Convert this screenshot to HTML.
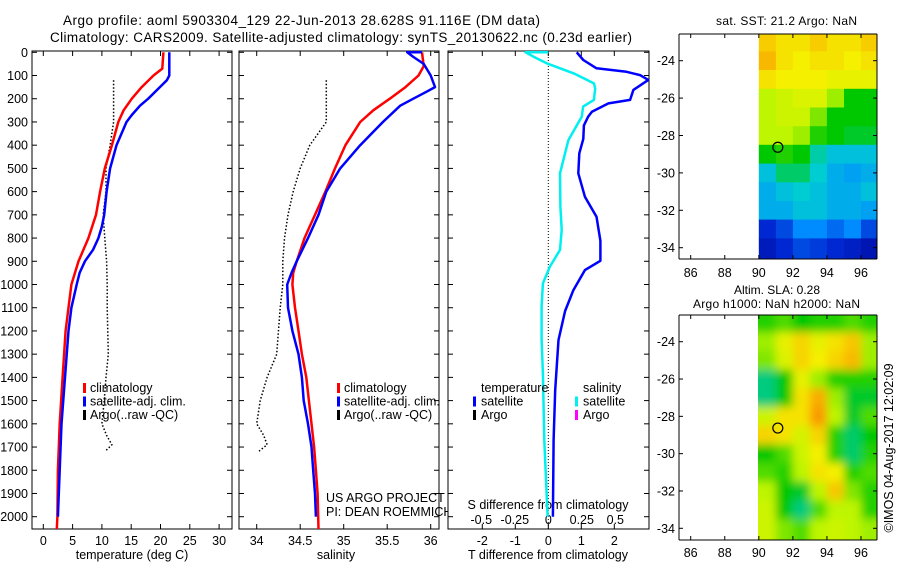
<!DOCTYPE html>
<html><head><meta charset="utf-8"><style>
html,body{margin:0;padding:0;background:#fff;}
svg{display:block;font-family:"Liberation Sans",sans-serif;}
</style></head><body>
<svg id="s" width="900" height="580" viewBox="0 0 900 580" xmlns="http://www.w3.org/2000/svg">
<defs>
<filter id="blur" x="-10%" y="-10%" width="120%" height="120%"><feGaussianBlur stdDeviation="4.5"/></filter>
<clipPath id="clipSST"><rect x="758" y="34" width="119" height="225"/></clipPath>
<clipPath id="clipSLA"><rect x="758" y="315" width="119" height="225"/></clipPath>
<clipPath id="clipP3"><rect x="448" y="51" width="201" height="478"/></clipPath>
</defs>
<text x="63" y="25" font-size="13.5" textLength="477">Argo profile: aoml 5903304_129 22-Jun-2013 28.628S 91.116E (DM data)</text>
<text x="50" y="42" font-size="13.5" textLength="582">Climatology: CARS2009. Satellite-adjusted climatology: synTS_20130622.nc (0.23d earlier)</text>
<text x="716" y="25" font-size="12" textLength="141">sat. SST: 21.2 Argo: NaN</text>
<text x="777" y="294" font-size="12" text-anchor="middle">Altim. SLA: 0.28</text>
<text x="693" y="308" font-size="12" textLength="167">Argo h1000: NaN h2000: NaN</text>
<text transform="translate(893,448) rotate(-90)" text-anchor="middle" font-size="12.5">©IMOS 04-Aug-2017 12:02:09</text>
<g id="g"></g>
</svg>
<script>
// ---- data ----
const tDepthClim=[0,70,100,150,200,250,300,400,500,600,700,800,900,1000,1100,1200,1400,1600,1800,2000,2053];
const tClim=[20.5,20.3,18.8,16.8,15.1,13.7,12.8,11.7,10.5,9.7,9.0,7.7,6.0,4.8,4.3,3.8,3.3,2.8,2.5,2.4,2.3];
const tDepthSat=[0,100,120,150,200,230,270,300,400,500,600,700,750,800,850,900,950,1000,1100,1200,1400,1600,1800,2000];
const tSat=[21.5,21.5,21.1,19.9,17.9,16.5,15.1,14.2,12.5,11.4,10.8,10.4,10.0,9.4,8.5,7.1,6.2,5.7,4.8,4.3,3.7,3.1,2.8,2.5];
const argoDepth=[120,300,400,500,600,700,800,900,1000,1100,1300,1400,1500,1600,1650,1690,1720];
const argoTemp=[12.0,12.0,11.4,10.7,10.7,10.2,10.5,10.8,10.9,10.9,11.1,10.7,10.4,10.0,10.8,11.7,10.5];
const sDepthClim=[0,60,100,150,200,250,300,400,500,600,700,800,900,950,1000,1100,1200,1300,1400,1500,1600,1700,1800,1900,2053];
const sClim=[35.90,35.92,35.86,35.71,35.53,35.34,35.19,35.02,34.90,34.79,34.67,34.55,34.46,34.42,34.41,34.44,34.48,34.52,34.57,34.60,34.63,34.66,34.68,34.70,34.71];
const sDepthSat=[0,0,20,50,100,150,170,200,230,300,400,500,600,700,800,900,950,1000,1100,1200,1300,1400,1500,1600,1700,1800,1900,2000];
const sSat=[35.90,35.73,35.80,35.92,36.0,36.05,35.95,35.80,35.65,35.45,35.19,34.96,34.80,34.71,34.59,34.46,34.40,34.35,34.36,34.41,34.48,34.52,34.54,34.59,34.63,34.65,34.67,34.68];
const argoSal=[34.80,34.80,34.61,34.50,34.42,34.36,34.32,34.30,34.30,34.27,34.23,34.12,34.04,34.00,34.08,34.12,34.02];
const dtDepth=[0,33,69,84,98,119,162,205,220,256,277,315,373,435,521,622,708,812,898,938,1024,1114,1239,1454,1670,2000];
const dTsat=[0.86,1.06,1.46,2.37,2.78,3.03,2.58,2.48,1.82,1.32,1.21,1.08,1.06,0.94,0.91,1.11,1.46,1.58,1.58,1.11,0.76,0.51,0.31,0.21,0.16,0.14];
const dsDepth=[0,0,19,48,91,134,155,205,234,277,378,521,665,765,851,923,995,1095,1239,1383,1670,2000];
const dSsat=[0,-0.17,-0.11,-0.01,0.19,0.34,0.35,0.34,0.26,0.25,0.15,0.087,0.09,0.10,0.087,0.012,-0.04,-0.05,-0.05,-0.04,-0.03,-0.005];
const mapLats=[-23,-24,-25,-26,-27,-28,-29,-30,-31,-32,-33,-34,-35];
const mapLons=[90.5,91.5,92.5,93.5,94.5,95.5,96.5];
const sstGrid=[
[0.75,0.72,0.72,0.75,0.72,0.72,0.75],
[0.78,0.72,0.70,0.72,0.72,0.70,0.72],
[0.72,0.70,0.70,0.70,0.68,0.68,0.68],
[0.62,0.64,0.66,0.66,0.60,0.50,0.50],
[0.62,0.64,0.64,0.58,0.50,0.50,0.50],
[0.62,0.62,0.60,0.52,0.50,0.48,0.48],
[0.50,0.52,0.50,0.42,0.38,0.38,0.38],
[0.38,0.45,0.45,0.40,0.35,0.33,0.35],
[0.35,0.38,0.40,0.38,0.35,0.35,0.38],
[0.35,0.35,0.38,0.38,0.35,0.35,0.33],
[0.15,0.20,0.30,0.30,0.25,0.30,0.20],
[0.10,0.15,0.20,0.18,0.15,0.12,0.08],
[0.10,0.15,0.20,0.18,0.15,0.12,0.08]];
const slaGrid=[
[0.52,0.55,0.50,0.52,0.52,0.55,0.52],
[0.60,0.68,0.74,0.68,0.72,0.76,0.60],
[0.58,0.66,0.74,0.70,0.74,0.78,0.60],
[0.44,0.50,0.68,0.60,0.52,0.52,0.52],
[0.44,0.50,0.72,0.80,0.60,0.48,0.48],
[0.64,0.72,0.72,0.82,0.62,0.48,0.55],
[0.74,0.72,0.65,0.74,0.52,0.45,0.50],
[0.50,0.55,0.64,0.70,0.52,0.45,0.52],
[0.55,0.52,0.62,0.72,0.70,0.52,0.55],
[0.62,0.50,0.48,0.62,0.76,0.58,0.52],
[0.64,0.50,0.44,0.55,0.62,0.62,0.52],
[0.64,0.58,0.55,0.62,0.64,0.62,0.60],
[0.64,0.58,0.55,0.62,0.64,0.62,0.60]];
const argoLon=91.116, argoLat=-28.628;
const depthTicks=[0,100,200,300,400,500,600,700,800,900,1000,1100,1200,1300,1400,1500,1600,1700,1800,1900,2000];
const tempTicks=[0,5,10,15,20,25,30];
const salTicks=[34,34.5,35,35.5,36];
const salTickLabels=["34","34.5","35","35.5","36"];
const dtTicks=[-2,-1,0,1,2];
const dsTicks=[-0.5,-0.25,0,0.25,0.5];
const dsTickLabels=["-0.5","-0.25","0","0.25","0.5"];
const lonTicks=[86,88,90,92,94,96];
const latTicks=[-24,-26,-28,-30,-32,-34];

// ---- scales ----
const NS="http://www.w3.org/2000/svg";
const G=document.getElementById('g');
function mk(tag,attrs,parent){const e=document.createElementNS(NS,tag);for(const k in attrs)e.setAttribute(k,attrs[k]);(parent||G).appendChild(e);return e;}
const yD=d=>52.3+d*0.2322;
const xT=t=>43.3+t*5.86;
const xS=s=>256.7+(s-34)*87;
const xDT=t=>548.3+t*33;
const xDS=s=>548.3+s*134;
const xLon=l=>690.7+(l-86)*17.03;
const yLat1=l=>60.7+(-24-l)*18.7;
const yLat2=l=>341.7+(-24-l)*18.66;
const PT=51, PB=529;
function colormap(v){
  const stops=[[0,[0,0,140]],[0.15,[0,40,210]],[0.3,[0,140,255]],[0.4,[0,205,210]],[0.5,[0,200,0]],[0.62,[190,245,0]],[0.7,[245,240,0]],[0.8,[250,170,0]],[1,[240,0,0]]];
  for(let i=1;i<stops.length;i++){if(v<=stops[i][0]){const a=stops[i-1],b=stops[i];const f=(v-a[0])/(b[0]-a[0]);return 'rgb('+a[1].map((c,j)=>Math.round(c+(b[1][j]-c)*f)).join(',')+')';}}
  return 'rgb(240,0,0)';
}
function line(xs,ds,xf,color,w,name,dash,clip){
  const pts=xs.map((v,i)=>xf(v).toFixed(1)+','+yD(ds[i]).toFixed(1)).join(' ');
  const a={points:pts,fill:'none',stroke:color,'stroke-width':w,'stroke-linejoin':'round'};
  if(dash)a['stroke-dasharray']=dash;
  if(clip)a['clip-path']=clip;
  const e=mk('polyline',a);
  
  
  return e;
}
function frame(x0,x1,name){
  const r=mk('rect',{x:x0,y:PT,width:x1-x0,height:PB-PT,fill:'#fff',stroke:'#000','stroke-width':1});
  
  
  depthTicks.forEach(d=>{mk('line',{x1:x0,x2:x0+5,y1:yD(d),y2:yD(d),stroke:'#000'});mk('line',{x1:x1-5,x2:x1,y1:yD(d),y2:yD(d),stroke:'#000'});});
}
function xticks(vals,labels,xf,name){
  vals.forEach((v,i)=>{
    mk('line',{x1:xf(v),x2:xf(v),y1:PT,y2:PT+5,stroke:'#000'});
    mk('line',{x1:xf(v),x2:xf(v),y1:PB-5,y2:PB,stroke:'#000'});
    const t=mk('text',{x:xf(v),y:545,'font-size':12.5,'text-anchor':'middle'});t.textContent=labels[i];
    
    
  });
}
function txt(x,y,s,name,opts){const t=mk('text',Object.assign({x:x,y:y,'font-size':12.5},opts||{}));t.textContent=s;
  
  return t;}
function legendMark(x,y,color,name){const r=mk('rect',{x:x,y:y-9,width:3,height:10,fill:color});
  
  }

// ---- panel 1: temperature ----
frame(32,232,'temperature-panel');
depthTicks.forEach(d=>{txt(28,yD(d)+4.5,String(d),'depth-tick-label',{'text-anchor':'end'});});
xticks(tempTicks,tempTicks.map(String),xT,'temperature-tick-label');
txt(132,559,'temperature (deg C)','temperature-axis-title',{'text-anchor':'middle'});
line(argoTemp,argoDepth,xT,'#000',1.5,'argo-temperature-line','1.5,2');
line(tClim,tDepthClim,xT,'#f00',2.5,'climatology-temperature-line');
line(tSat,tDepthSat,xT,'#00f',2.5,'satellite-temperature-line');
legendMark(83,392,'#f00','legend-climatology-marker');txt(90,392,'climatology','legend-climatology');
legendMark(83,405.5,'#00f','legend-satellite-marker');txt(90,405.5,'satellite-adj. clim.','legend-satellite');
legendMark(83,419,'#000','legend-argo-marker');txt(90,419,'Argo(..raw -QC)','legend-argo');

// ---- panel 2: salinity ----
frame(239,439,'salinity-panel');
xticks(salTicks,salTickLabels,xS,'salinity-tick-label');
txt(336,559,'salinity','salinity-axis-title',{'text-anchor':'middle'});
line(argoSal,argoDepth,xS,'#000',1.5,'argo-salinity-line','1.5,2');
line(sClim,sDepthClim,xS,'#f00',2.5,'climatology-salinity-line');
line(sSat,sDepthSat,xS,'#00f',2.5,'satellite-salinity-line');
legendMark(337,392,'#f00','legend-climatology-marker');txt(344,392,'climatology','legend-climatology');
legendMark(337,405.5,'#00f','legend-satellite-marker');txt(344,405.5,'satellite-adj. clim.','legend-satellite');
legendMark(337,419,'#000','legend-argo-marker');txt(344,419,'Argo(..raw -QC)','legend-argo');
txt(326,502,'US ARGO PROJECT','project-label');
txt(326,516,'PI: DEAN ROEMMICH','pi-label');

// ---- panel 3: differences ----
frame(448,649,'difference-panel');
xticks(dtTicks,dtTicks.map(String),xDT,'t-difference-tick-label');
txt(548,559,'T difference from climatology','t-difference-axis-title',{'text-anchor':'middle'});
mk('line',{x1:548.3,x2:548.3,y1:PT,y2:PB,stroke:'#000','stroke-dasharray':'1,2'});
txt(548,509,'S difference from climatology','s-difference-axis-title',{'text-anchor':'middle'});
dsTicks.forEach((v,i)=>{txt(xDS(v),524,dsTickLabels[i],'s-difference-tick-label',{'text-anchor':'middle'});});
line(dSsat,dsDepth,xDS,'#00f0f0',2.5,'satellite-salinity-difference-line',null,'url(#clipP3)');
line(dTsat,dtDepth,xDT,'#00f',2.5,'satellite-temperature-difference-line',null,'url(#clipP3)');
txt(481,392,'temperature','legend-temperature-heading');
legendMark(473,405.5,'#00f','legend-t-satellite-marker');txt(481,405.5,'satellite','legend-t-satellite');
legendMark(473,419,'#000','legend-t-argo-marker');txt(481,419,'Argo','legend-t-argo');
txt(583,392,'salinity','legend-salinity-heading');
legendMark(575,405.5,'#00f0f0','legend-s-satellite-marker');txt(583,405.5,'satellite','legend-s-satellite');
legendMark(575,419,'#f0f','legend-s-argo-marker');txt(583,419,'Argo','legend-s-argo');

// ---- maps ----
function map(grid,yLat,top,bottom,clip,blur,name,lonLabelY){
  const gg=mk('g',{'clip-path':clip});
  
  
  const inner=blur?mk('g',{filter:'url(#blur)'},gg):gg;
  grid.forEach((row,i)=>row.forEach((v,j)=>{
    const pad=blur?10:0;
    let x0=xLon(mapLons[j]-0.5), x1=xLon(mapLons[j]+0.5);
    let y0=yLat(mapLats[i]+0.5), y1=yLat(mapLats[i]-0.5);
    if(j==0)x0-=pad; if(j==row.length-1)x1+=pad+1; if(i==0)y0-=pad;
    const r=mk('rect',{x:x0.toFixed(1),y:y0.toFixed(1),width:(x1-x0+0.6).toFixed(1),height:(y1-y0+0.6).toFixed(1),fill:colormap(v)},inner);
    
    
  }));
  mk('line',{x1:679,x2:679,y1:top,y2:bottom,stroke:'#000'});
  mk('line',{x1:679,x2:877,y1:bottom,y2:bottom,stroke:'#000'});
  mk('line',{x1:679,x2:877,y1:top,y2:top,stroke:'#000'});
  mk('line',{x1:877,x2:877,y1:top,y2:bottom,stroke:'#000'});
  lonTicks.forEach(l=>{
    mk('line',{x1:xLon(l),x2:xLon(l),y1:bottom-4,y2:bottom,stroke:'#000'});
    mk('line',{x1:xLon(l),x2:xLon(l),y1:top,y2:top+4,stroke:'#000'});
    txt(xLon(l),lonLabelY,String(l),'longitude-tick-label',{'text-anchor':'middle'});
  });
  latTicks.forEach(l=>{
    mk('line',{x1:679,x2:683,y1:yLat(l),y2:yLat(l),stroke:'#000'});
    mk('line',{x1:873,x2:877,y1:yLat(l),y2:yLat(l),stroke:'#000'});
    txt(675,yLat(l)+4.5,String(l),'latitude-tick-label',{'text-anchor':'end'});
  });
  const c=mk('circle',{cx:xLon(argoLon),cy:yLat(argoLat),r:5,fill:'none',stroke:'#000','stroke-width':1.2});
  
  
}
map(sstGrid,yLat1,34,259,'url(#clipSST)',false,'sst-map',277);
map(slaGrid,yLat2,315,540,'url(#clipSLA)',true,'sla-map',557);
</script>
</body></html>
